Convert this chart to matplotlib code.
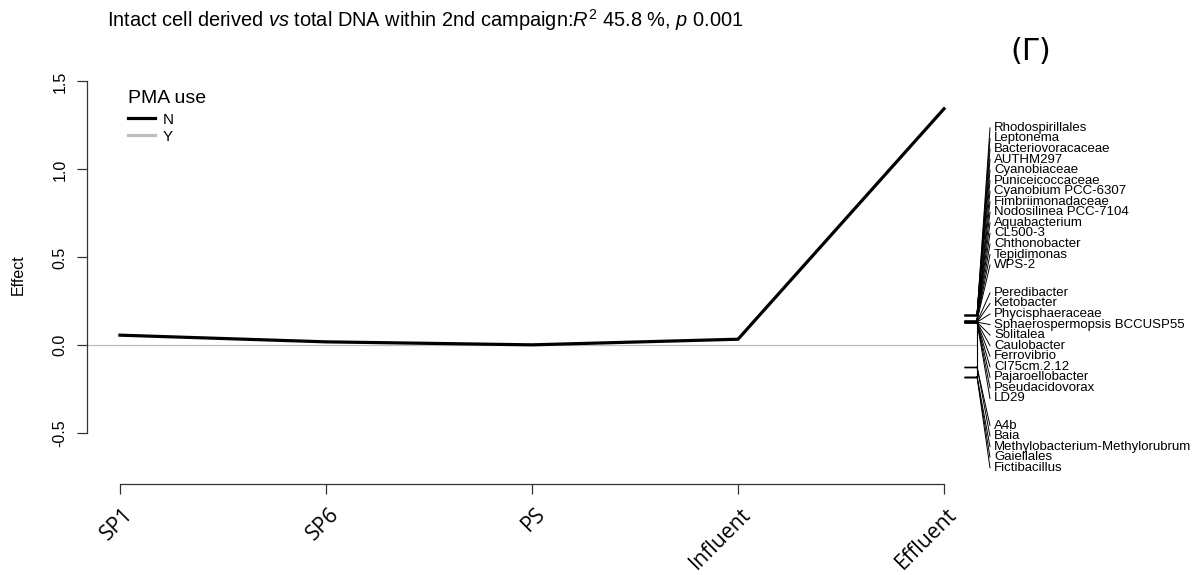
import matplotlib
matplotlib.use("Agg")
import matplotlib.pyplot as plt
from matplotlib.lines import Line2D
import numpy as np

# ---------------- data ----------------
sites = ["SP1", "SP6", "PS", "Influent", "Effluent"]
effect_N = [0.058, 0.020, 0.003, 0.035, 1.345]
effect_Y = [0.0, 0.0, 0.0, 0.0, 0.0]

species = ["Rhodospirillales", "Leptonema", "Bacteriovoracaceae", "AUTHM297",
           "Cyanobiaceae", "Puniceicoccaceae", "Cyanobium PCC-6307",
           "Fimbriimonadaceae", "Nodosilinea PCC-7104", "Aquabacterium",
           "CL500-3", "Chthonobacter", "Tepidimonas", "WPS-2",
           "Peredibacter", "Ketobacter", "Phycisphaeraceae",
           "Sphaerospermopsis BCCUSP55", "Solitalea", "Caulobacter",
           "Ferrovibrio", "CI75cm.2.12", "Pajaroellobacter", "Pseudacidovorax",
           "LD29",
           "A4b", "Baia", "Methylobacterium-Methylorubrum", "Gaiellales",
           "Fictibacillus"]
species_score = [0.173, 0.173, 0.173, 0.173, 0.173, 0.173, 0.140, 0.140,
                 0.140, 0.140, 0.140, 0.140, 0.140, 0.140,
                 0.132, 0.132, 0.132, 0.132, 0.132, 0.132, 0.132, 0.132,
                 0.132, 0.132, 0.132,
                 -0.122, -0.122, -0.177, -0.177, -0.177]
yticks = [-0.5, 0.0, 0.5, 1.0, 1.5]
ytick_labels = ["-0.5", "0.0", "0.5", "1.0", "1.5"]

# ---------------- layout ----------------
W, H = 1203, 575
fig = plt.figure(figsize=(W / 100, H / 100), dpi=100)
L, R, T, B = 87, 977, 66, 484
ax = fig.add_axes([L / W, 1 - B / H, (R - L) / W, (B - T) / H])
xlim = (0.84, 5.16)
ylim = (-0.788, 1.588)
ax.set_xlim(*xlim)
ax.set_ylim(*ylim)

x = np.arange(1, len(sites) + 1)
ax.axhline(0, color="#bebebe", lw=0.9, zorder=1)
ax.plot(x, effect_N, color="black", lw=2.3, solid_joinstyle="miter", zorder=3)

# axes styling (R-like)
for s in ["top", "right"]:
    ax.spines[s].set_visible(False)
ax.spines["left"].set_bounds(-0.5, 1.5)
ax.spines["bottom"].set_bounds(1, 5)
for s in ["left", "bottom"]:
    ax.spines[s].set_color("#333333")
    ax.spines[s].set_linewidth(0.9)
ax.set_yticks(yticks)
ax.set_yticklabels(ytick_labels, rotation=90, va="center",
                   fontfamily="Liberation Sans", fontsize=11.5)
ax.tick_params(axis="y", length=7.2, width=0.9, color="#333333", pad=7)
ax.set_xticks(x)
ax.set_xticklabels([])
ax.tick_params(axis="x", length=7.2, width=0.9, color="#333333")

# rotated x labels
px_y = (ylim[1] - ylim[0]) / (B - T)
px_x = (xlim[1] - xlim[0]) / (R - L)
y_lab = ylim[0] - 27 * px_y
for xi, lab in zip(x, sites):
    ax.text(xi + 10 * px_x, y_lab, lab, rotation=45, ha="right", va="center",
            rotation_mode="anchor", fontfamily="Open Sans", fontsize=15.3,
            clip_on=False)

fig.text(18 / W, 1 - 275 / H, "Effect", rotation=90, ha="center", va="center",
         fontfamily="Liberation Sans", fontsize=11.5)

# species linestack
at = xlim[1]
hoff = 13 * px_x
spacing = 10.55 * px_y
group_sizes = [14, 11, 5]
group_tops = [1.236, 0.298, -0.456]
label_y = []
for n, top in zip(group_sizes, group_tops):
    label_y += [top - i * spacing for i in range(n)]
ax.plot([at, at], [min(species_score), max(species_score)], color="black",
        lw=0.8, clip_on=False)
for sc, ly, name in zip(species_score, label_y, species):
    ax.plot([at, at + hoff], [sc, ly], color="black", lw=0.7, clip_on=False)
    ax.text(at + hoff + 4 * px_x, ly, name, ha="left", va="center",
            fontfamily="Liberation Sans", fontsize=9.5, clip_on=False)
ax.hlines(species_score, at - 13 * px_x, at, color="black", lw=1.0,
          clip_on=False)

# legend
handles = [Line2D([], [], color="black", lw=2.3),
           Line2D([], [], color="#bebebe", lw=2.3)]
leg = ax.legend(handles, ["N", "Y"], title="PMA use", loc="upper left",
                bbox_to_anchor=(128 / W, 1 - 90 / H),
                bbox_transform=fig.transFigure, frameon=False,
                prop={"family": "Liberation Sans", "size": 11},
                title_fontproperties={"family": "Liberation Sans", "size": 14},
                handlelength=1.75, handletextpad=0.55, labelspacing=0.2,
                borderpad=0, borderaxespad=0, alignment="left")
leg._legend_box.sep = 4

# title
plt.rcParams["mathtext.fontset"] = "custom"
plt.rcParams["mathtext.rm"] = "Liberation Sans"
plt.rcParams["mathtext.it"] = "Liberation Sans:italic"
fig.text(107 / W, 1 - 20 / H,
         r"Intact cell derived $\it{vs}$ total DNA within 2nd campaign:$\it{R}^2$ 45.8 %, $\it{p}$ 0.001",
         ha="left", va="center", fontfamily="Liberation Sans", fontsize=14.4)

fig.text(1031 / W, 1 - 51 / H, "(Γ)", ha="center", va="center",
         fontfamily="DejaVu Sans", fontsize=22)

fig.savefig("out.png", dpi=100)
